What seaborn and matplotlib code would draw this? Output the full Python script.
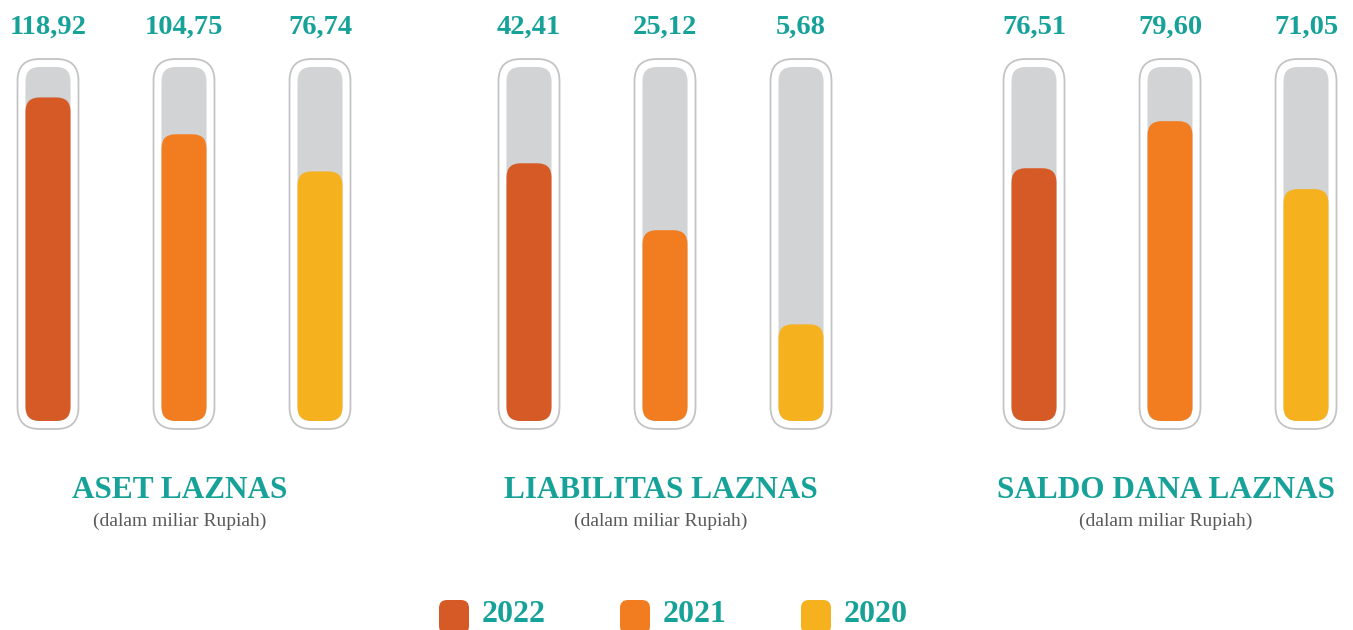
import numpy as np
import pandas as pd
import matplotlib.pyplot as plt
import seaborn as sns
from matplotlib.patches import FancyBboxPatch

# Data
groups = ["ASET LAZNAS", "LIABILITAS LAZNAS", "SALDO DANA LAZNAS"]
years = ["2022", "2021", "2020"]
aset = [118.92, 104.75, 76.74]
liabilitas = [42.41, 25.12, 5.68]
saldo = [76.51, 79.60, 71.05]
# how full each tube is drawn (share of the tube)
aset_fill = [0.914, 0.810, 0.705]
liabilitas_fill = [0.728, 0.539, 0.273]
saldo_fill = [0.714, 0.847, 0.655]
subtitle = "(dalam miliar Rupiah)"

colors = {"2022": "#d55a26", "2021": "#f27c20", "2020": "#f6b11e"}
teal = "#17a299"
grey_track = "#d1d3d4"

rows = []
for g, vals, fills in zip(groups, [aset, liabilitas, saldo],
                          [aset_fill, liabilitas_fill, saldo_fill]):
    for y, v, f in zip(years, vals, fills):
        rows.append({"group": g, "year": y, "value": v, "fill": f, "track": 1.0})
df = pd.DataFrame(rows)

sns.set_style("white")
plt.rcParams['font.family'] = ['Liberation Serif', 'DejaVu Serif']

W, H = 1353, 630
fig = plt.figure(figsize=(W / 100, H / 100), dpi=100)

centers = [184, 665, 1170]
step = 136
track_top, track_bot = 67, 421
px_x = 1 / step
px_y = 1 / (track_bot - track_top)
asp = px_y / px_x
bar_w = 45 / step

for g, cx in zip(groups, centers):
    ax = fig.add_axes([(cx - 1.5 * step) / W, (H - track_bot) / H,
                       3 * step / W, (track_bot - track_top) / H])
    sub = df[df["group"] == g]
    sns.barplot(data=sub, x="year", y="track", order=years, color=grey_track,
                width=bar_w, saturation=1, errorbar=None, ax=ax)
    sns.barplot(data=sub, x="year", y="fill", hue="year", order=years,
                hue_order=years, palette=colors, width=bar_w, saturation=1,
                errorbar=None, legend=False, ax=ax)
    ax.set_xlim(-0.5, 2.5)
    ax.set_ylim(0, 1)
    ax.axis("off")

    # swap plain bars for rounded tubes
    bars = list(ax.patches)
    for i, p in enumerate(bars):
        x, y, w, h = p.get_x(), p.get_y(), p.get_width(), p.get_height()
        fc = p.get_facecolor()
        p.remove()
        if i < 3:
            ax.add_patch(FancyBboxPatch(
                (x - 8 * px_x, y - 8 * px_y), w + 16 * px_x, h + 16 * px_y,
                boxstyle=f"round,pad=0,rounding_size={22 * px_x}",
                mutation_aspect=asp, fc="white", ec="#c4c4c4", lw=1.3,
                clip_on=False, zorder=1))
            z = 2
        else:
            z = 3
        ax.add_patch(FancyBboxPatch(
            (x, y), w, h, boxstyle=f"round,pad=0,rounding_size={14 * px_x}",
            mutation_aspect=asp, fc=fc, ec="none", clip_on=False, zorder=z))

    for i, v in enumerate(sub["value"]):
        ax.text(i, 1 + 40 * px_y, f"{v:.2f}".replace(".", ","), ha="center",
                va="center", fontsize=20.5, fontweight="bold", color=teal)
    ax.text(1 - 4 * px_x, -(491 - track_bot) * px_y, g, ha="center", va="center",
            fontsize=22.5, fontweight="bold", color=teal)
    ax.text(1 - 4 * px_x, -(521 - track_bot) * px_y, subtitle, ha="center",
            va="center", fontsize=14, color="#58595b")

# legend
lax = fig.add_axes([0, 0, 1, 1])
lax.set_xlim(0, W)
lax.set_ylim(H, 0)
lax.axis("off")
lax.patch.set_alpha(0)
for i, y in enumerate(years):
    sx = 454 + 181 * i
    lax.add_patch(FancyBboxPatch((sx - 15, 600), 30, 34,
                                 boxstyle="round,pad=0,rounding_size=8",
                                 fc=colors[y], ec="none"))
    lax.text(sx + 28, 614, y, ha="left", va="center", fontsize=23,
             fontweight="bold", color=teal)

fig.savefig("out.png", dpi=100)
